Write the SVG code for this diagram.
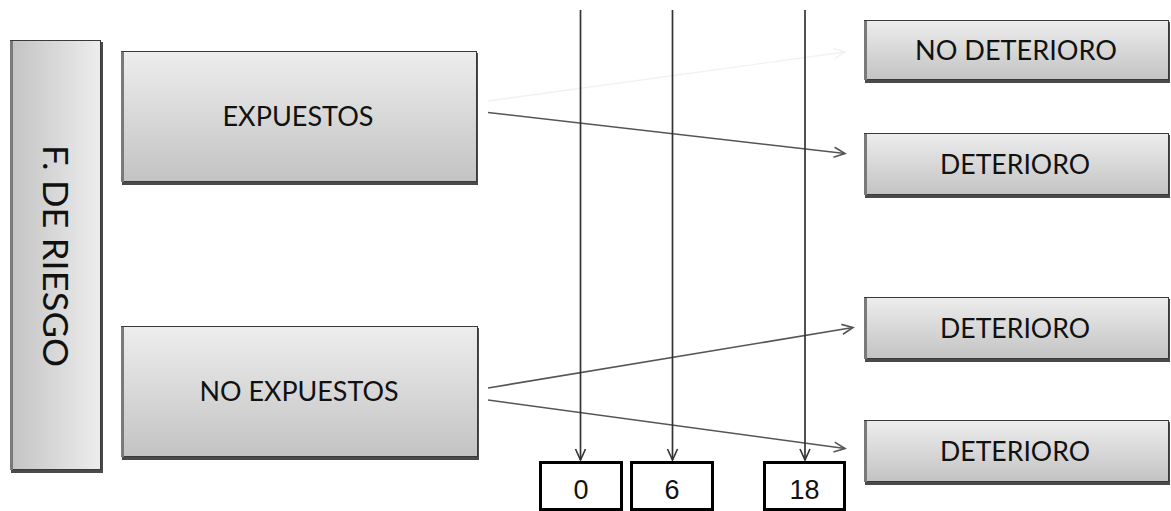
<svg xmlns="http://www.w3.org/2000/svg" width="1171" height="511" viewBox="0 0 1171 511">
<style>
.box{stroke:#3a3a3a;stroke-width:1}
.shadow{fill:#4a4a4a}
.lbl{font-family:Lato,"Liberation Sans",Arial,sans-serif;font-size:27px;fill:#111;text-anchor:middle}
.num{font-family:"Liberation Sans",Arial,sans-serif;font-size:27px;fill:#111;text-anchor:middle}
.nbox{fill:#fff;stroke:#000;stroke-width:3}
.arr{stroke:#555;stroke-width:1.6;fill:none;marker-end:url(#ah)}
.faint{stroke:#f1f1f1;stroke-width:1.4;fill:none;marker-end:url(#ahf)}
.vl{stroke:#333;stroke-width:1.7;fill:none;marker-end:url(#ahv)}
</style>
<defs>
<linearGradient id="gv" x1="0" y1="0" x2="0" y2="1">
<stop offset="0" stop-color="#ededed"/>
<stop offset="1" stop-color="#c3c3c3"/>
</linearGradient>
<linearGradient id="gh" x1="0" y1="0" x2="1" y2="0">
<stop offset="0" stop-color="#c3c3c3"/>
<stop offset="1" stop-color="#ededed"/>
</linearGradient>
<marker id="ah" markerUnits="userSpaceOnUse" markerWidth="14" markerHeight="14" refX="12" refY="6" orient="auto" viewBox="0 0 14 12">
<path d="M1,1 L12,6 L1,11" fill="none" stroke="#555" stroke-width="1.6"/>
</marker>
<marker id="ahf" markerUnits="userSpaceOnUse" markerWidth="14" markerHeight="14" refX="12" refY="6" orient="auto" viewBox="0 0 14 12">
<path d="M1,1 L12,6 L1,11" fill="none" stroke="#f1f1f1" stroke-width="1.4"/>
</marker>
<marker id="ahv" markerUnits="userSpaceOnUse" markerWidth="14" markerHeight="14" refX="12" refY="6" orient="auto" viewBox="0 0 14 12">
<path d="M1,1 L12,6 L1,11" fill="none" stroke="#333" stroke-width="1.6"/>
</marker>
</defs>
<rect width="1171" height="511" fill="#fff"/>

<g id="connectors">
<line class="faint" x1="488" y1="101" x2="845" y2="52"/>
<line class="arr" x1="488" y1="112.5" x2="845" y2="153.5"/>
<line class="arr" x1="488" y1="388" x2="853" y2="327.5"/>
<line class="arr" x1="488" y1="400" x2="845" y2="448.5"/>
<line class="vl" x1="580.5" y1="10" x2="580.5" y2="460"/>
<line class="vl" x1="672.5" y1="10" x2="672.5" y2="460"/>
<line class="vl" x1="805" y1="10" x2="805" y2="460"/>
</g>

<g id="riesgo">
<rect class="shadow" x="11" y="42" width="92" height="431"/>
<rect class="box" x="10.5" y="40.5" width="90" height="429" fill="url(#gh)"/>
<rect x="10" y="41" width="3" height="429" fill="#7a7a7a"/>
<text class="lbl" style="font-size:34px" transform="translate(55,256) rotate(90)" x="0" y="12" textLength="222" lengthAdjust="spacingAndGlyphs">F. DE RIESGO</text>
</g>

<g id="expuestos">
<rect class="shadow" x="122" y="53" width="356" height="132"/>
<rect class="box" x="121.5" y="51.5" width="355" height="130" fill="url(#gv)"/>
<rect x="121" y="52" width="3" height="130" fill="#7a7a7a"/>
<text class="lbl" x="298" y="126" textLength="151" lengthAdjust="spacingAndGlyphs">EXPUESTOS</text>
</g>

<g id="no-expuestos">
<rect class="shadow" x="122" y="328" width="357" height="132"/>
<rect class="box" x="121.5" y="326.5" width="356" height="130" fill="url(#gv)"/>
<rect x="121" y="327" width="3" height="130" fill="#7a7a7a"/>
<text class="lbl" x="299" y="401" textLength="199" lengthAdjust="spacingAndGlyphs">NO EXPUESTOS</text>
</g>

<g id="no-deterioro">
<rect class="shadow" x="865" y="22" width="305" height="61"/>
<rect class="box" x="864.5" y="20.5" width="304" height="59" fill="url(#gv)"/>
<rect x="864" y="21" width="3" height="59" fill="#7a7a7a"/>
<text class="lbl" x="1016" y="59.5" textLength="202" lengthAdjust="spacingAndGlyphs">NO DETERIORO</text>
</g>

<g id="deterioro-1">
<rect class="shadow" x="865" y="135" width="305" height="63"/>
<rect class="box" x="864.5" y="133.5" width="304" height="61" fill="url(#gv)"/>
<rect x="864" y="134" width="3" height="61" fill="#7a7a7a"/>
<text class="lbl" x="1015" y="174" textLength="150" lengthAdjust="spacingAndGlyphs">DETERIORO</text>
</g>

<g id="deterioro-2">
<rect class="shadow" x="865" y="299" width="305" height="63"/>
<rect class="box" x="864.5" y="297.5" width="304" height="61" fill="url(#gv)"/>
<rect x="864" y="298" width="3" height="61" fill="#7a7a7a"/>
<text class="lbl" x="1015" y="338" textLength="150" lengthAdjust="spacingAndGlyphs">DETERIORO</text>
</g>

<g id="deterioro-3">
<rect class="shadow" x="865" y="422" width="305" height="63"/>
<rect class="box" x="864.5" y="420.5" width="304" height="61" fill="url(#gv)"/>
<rect x="864" y="421" width="3" height="61" fill="#7a7a7a"/>
<text class="lbl" x="1015" y="461" textLength="150" lengthAdjust="spacingAndGlyphs">DETERIORO</text>
</g>

<g id="t0">
<rect class="nbox" x="540.5" y="462.5" width="81" height="47"/>
<text class="num" x="581" y="499">0</text>
</g>
<g id="t6">
<rect class="nbox" x="631.5" y="462.5" width="81" height="47"/>
<text class="num" x="672" y="499">6</text>
</g>
<g id="t18">
<rect class="nbox" x="764.5" y="462.5" width="80" height="47"/>
<text class="num" x="804.5" y="499">18</text>
</g>
</svg>
